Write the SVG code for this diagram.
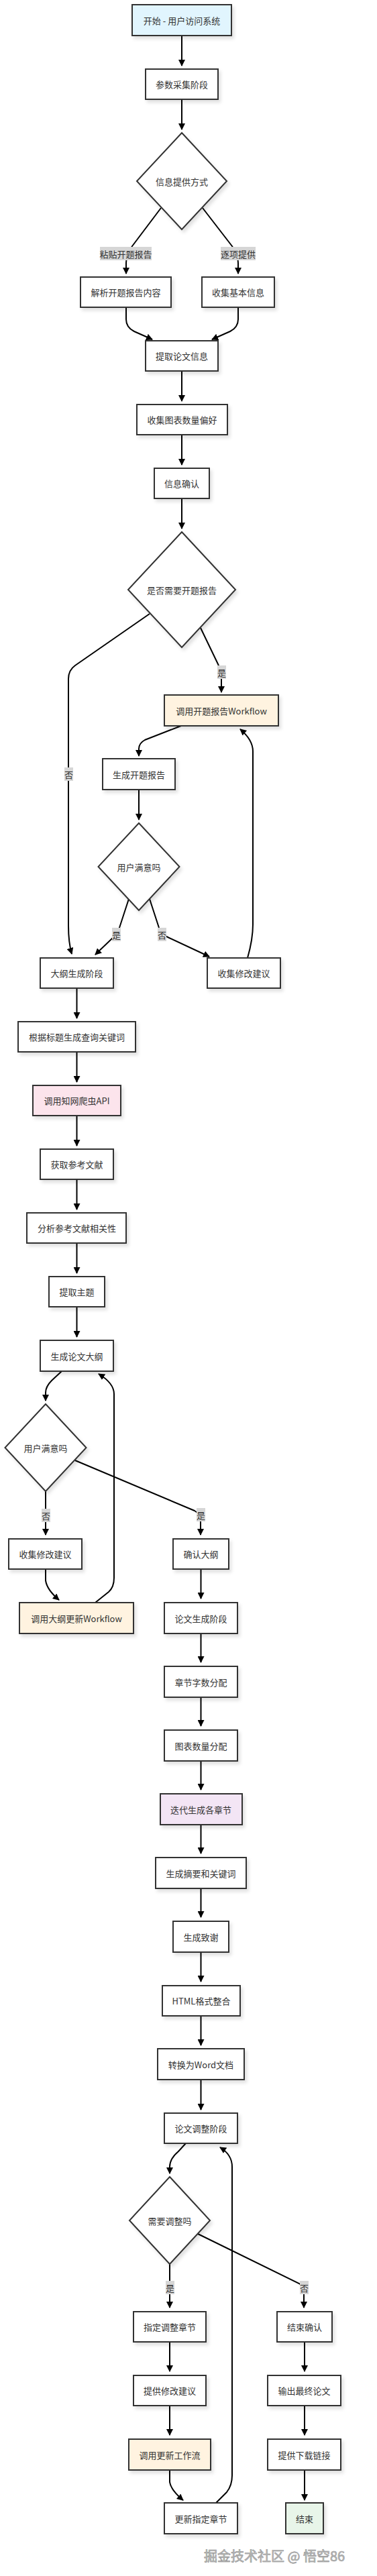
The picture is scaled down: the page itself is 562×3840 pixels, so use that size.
<svg xmlns="http://www.w3.org/2000/svg" width="562" height="3840" viewBox="0 0 562 3840">
<defs>
<marker id="arr" viewBox="0 0 10 10" refX="9" refY="5" markerWidth="10" markerHeight="10" markerUnits="userSpaceOnUse" orient="auto">
<path d="M0,0 L10,5 L0,10 z" fill="#000"/>
</marker>
<filter id="sh" x="-20%" y="-20%" width="140%" height="160%">
<feDropShadow dx="3" dy="4" stdDeviation="2.5" flood-color="#000" flood-opacity="0.12"/>
</filter>
<style>
.n rect,.n polygon{fill:#fff;stroke:#333;stroke-width:2;filter:url(#sh)}
.n text{font-family:"Noto Sans CJK SC","Noto Sans",sans-serif;font-size:13px;fill:#333;text-anchor:middle;dominant-baseline:central}
.blue rect{fill:#e1f5fe}
.orange rect{fill:#fff3e0}
.pink rect{fill:#fce4ec}
.purple rect{fill:#f3e5f5}
.green rect{fill:#e8f5e9}
.e path{fill:none;stroke:#000;stroke-width:2;marker-end:url(#arr)}
.lb rect{fill:#d6d6d6}
.lb text{font-family:"Noto Sans CJK SC","Noto Sans",sans-serif;font-size:13px;fill:#333;text-anchor:middle;dominant-baseline:central}
.wm{font-family:"Noto Sans CJK SC","Noto Sans",sans-serif;font-size:20px;fill:#b0b0b0;stroke:#777;stroke-width:0.6;paint-order:stroke}
</style>
</defs>
<rect width="562" height="3840" fill="#fff"/>

<g id="connectors" class="e">
<path d="M271,53 V98"/>
<path d="M271,148 V193"/>
<path d="M240,310 L197,367 Q188,380 188,392 L188,408"/>
<path d="M302,310 L346,367 Q355,380 355,392 L355,408"/>
<path d="M188,458 L188,476 Q188,488 200,494 L227,506"/>
<path d="M355,458 L355,476 Q355,488 343,494 L316,506"/>
<path d="M271,553 V598"/>
<path d="M271,648 V693"/>
<path d="M271,743 V788"/>
<path d="M223,915 L112,992 Q102,999 102,1012 L102,1380 Q102,1405 107,1422"/>
<path d="M299,936 L325,990 Q330,1000 330,1010 L330,1032"/>
<path d="M270,1082 L216,1103 Q207,1108 207,1116 L207,1127"/>
<path d="M207,1177 V1222"/>
<path d="M192,1340 L178,1383 Q173,1394 166,1400 L142,1423"/>
<path d="M223,1340 L237,1383 Q241,1393 250,1397 L312,1426"/>
<path d="M369,1428 Q377,1400 377,1378 L377,1120 Q377,1103 358,1087"/>
<path d="M114.5,1473 V1518"/>
<path d="M114.5,1568 V1613"/>
<path d="M114.5,1663 V1708"/>
<path d="M114.5,1758 V1803"/>
<path d="M114.5,1853 V1898"/>
<path d="M114.5,1948 V1993"/>
<path d="M92,2044 L77,2058 Q68,2067 68,2076 L68,2088"/>
<path d="M68,2223 V2288"/>
<path d="M112,2177 L290,2252 Q299,2257 299,2266 L299,2288"/>
<path d="M68,2339 L68,2356 Q70,2370 88,2385"/>
<path d="M142,2389 L162,2373 Q170,2366 170,2352 L170,2078 Q170,2062 147,2048"/>
<path d="M299.5,2339 V2383"/>
<path d="M299.5,2435 V2478"/>
<path d="M299.5,2530 V2573"/>
<path d="M299.5,2625 V2668"/>
<path d="M299.5,2720 V2763"/>
<path d="M299.5,2815 V2858"/>
<path d="M299.5,2910 V2954"/>
<path d="M299.5,3005 V3049"/>
<path d="M299.5,3100 V3145"/>
<path d="M277,3195 L266,3207 Q253,3218 253,3230 L253,3240"/>
<path d="M253,3375 V3440"/>
<path d="M295,3330 L446,3404 Q453,3409 453,3416 L453,3440"/>
<path d="M253,3491 V3535"/>
<path d="M253,3586 V3630"/>
<path d="M253,3682 L253,3700 Q255,3712 273,3727"/>
<path d="M322,3731 L338,3715 Q346,3705 346,3690 L346,3230 Q346,3212 328,3201"/>
<path d="M454,3491 V3535"/>
<path d="M454,3586 V3630"/>
<path d="M454,3682 V3727"/>
</g>

<g id="edge-labels" class="lb">
<g><rect x="149" y="368" width="77" height="20"/><text x="187.5" y="378">粘贴开题报告</text></g>
<g><rect x="329" y="368" width="52" height="20"/><text x="355" y="378">逐项提供</text></g>
<g><rect x="96" y="1144" width="13" height="20"/><text x="102.5" y="1154">否</text></g>
<g><rect x="324" y="992" width="13" height="20"/><text x="330.5" y="1002">是</text></g>
<g><rect x="167" y="1383" width="13" height="20"/><text x="173.5" y="1393">是</text></g>
<g><rect x="235" y="1383" width="13" height="20"/><text x="241.5" y="1393">否</text></g>
<g><rect x="62" y="2249" width="13" height="20"/><text x="68.5" y="2259">否</text></g>
<g><rect x="293" y="2248" width="13" height="20"/><text x="299.5" y="2258">是</text></g>
<g><rect x="247" y="3400" width="13" height="20"/><text x="253.5" y="3410">是</text></g>
<g><rect x="447" y="3400" width="13" height="20"/><text x="453.5" y="3410">否</text></g>
</g>

<g id="start" class="n blue"><rect x="197" y="7" width="148" height="46"/><text x="271" y="30">开始 - 用户访问系统</text></g>
<g id="params" class="n"><rect x="217" y="103" width="108" height="45"/><text x="271" y="125.5">参数采集阶段</text></g>
<g id="infoMode" class="n"><polygon points="271,198 338,270 271,342 204,270"/><text x="271" y="270">信息提供方式</text></g>
<g id="parseReport" class="n"><rect x="120" y="413" width="135" height="45"/><text x="187.5" y="435.5">解析开题报告内容</text></g>
<g id="collectBasic" class="n"><rect x="301" y="413" width="108" height="45"/><text x="355" y="435.5">收集基本信息</text></g>
<g id="extractInfo" class="n"><rect x="217" y="508" width="108" height="45"/><text x="271" y="530.5">提取论文信息</text></g>
<g id="chartPref" class="n"><rect x="204" y="603" width="135" height="45"/><text x="271.5" y="625.5">收集图表数量偏好</text></g>
<g id="confirmInfo" class="n"><rect x="230" y="698" width="82" height="45"/><text x="271" y="720.5">信息确认</text></g>
<g id="needReport" class="n"><polygon points="271,793 351,879 271,965 191,879"/><text x="271" y="879">是否需要开题报告</text></g>
<g id="reportWorkflow" class="n orange"><rect x="245" y="1036" width="170" height="46"/><text x="330" y="1059">调用开题报告Workflow</text></g>
<g id="genReport" class="n"><rect x="153" y="1131" width="108" height="46"/><text x="207" y="1154">生成开题报告</text></g>
<g id="satisfied1" class="n"><polygon points="207,1227 267.5,1292 207,1357 146.5,1292"/><text x="207" y="1292">用户满意吗</text></g>
<g id="outlineStage" class="n"><rect x="60" y="1428" width="109" height="45"/><text x="114.5" y="1450.5">大纲生成阶段</text></g>
<g id="collectSuggest1" class="n"><rect x="309" y="1428" width="109" height="45"/><text x="363.5" y="1450.5">收集修改建议</text></g>
<g id="genKeywords" class="n"><rect x="27" y="1523" width="175" height="45"/><text x="114.5" y="1545.5">根据标题生成查询关键词</text></g>
<g id="cnkiApi" class="n pink"><rect x="49" y="1618" width="131" height="45"/><text x="114.5" y="1640.5">调用知网爬虫API</text></g>
<g id="getRefs" class="n"><rect x="60" y="1713" width="109" height="45"/><text x="114.5" y="1735.5">获取参考文献</text></g>
<g id="analyzeRefs" class="n"><rect x="40" y="1808" width="148" height="45"/><text x="114.5" y="1830.5">分析参考文献相关性</text></g>
<g id="extractTopic" class="n"><rect x="73" y="1903" width="83" height="45"/><text x="114.5" y="1925.5">提取主题</text></g>
<g id="genOutline" class="n"><rect x="60" y="1998" width="109" height="46"/><text x="114.5" y="2021">生成论文大纲</text></g>
<g id="satisfied2" class="n"><polygon points="68,2093 128.5,2158 68,2223 7.5,2158"/><text x="68" y="2158">用户满意吗</text></g>
<g id="collectSuggest2" class="n"><rect x="13" y="2294" width="109" height="45"/><text x="67.5" y="2316.5">收集修改建议</text></g>
<g id="outlineWorkflow" class="n orange"><rect x="29" y="2389" width="170" height="46"/><text x="114" y="2412">调用大纲更新Workflow</text></g>
<g id="confirmOutline" class="n"><rect x="258" y="2294" width="83" height="45"/><text x="299.5" y="2316.5">确认大纲</text></g>
<g id="paperStage" class="n"><rect x="245" y="2389" width="109" height="46"/><text x="299.5" y="2412">论文生成阶段</text></g>
<g id="wordAlloc" class="n"><rect x="245" y="2484" width="109" height="46"/><text x="299.5" y="2507">章节字数分配</text></g>
<g id="chartAlloc" class="n"><rect x="245" y="2579" width="109" height="46"/><text x="299.5" y="2602">图表数量分配</text></g>
<g id="iterChapters" class="n purple"><rect x="239" y="2674" width="122" height="46"/><text x="299.5" y="2697">迭代生成各章节</text></g>
<g id="genAbstract" class="n"><rect x="232" y="2769" width="135" height="46"/><text x="299.5" y="2792">生成摘要和关键词</text></g>
<g id="genThanks" class="n"><rect x="258" y="2864" width="83" height="46"/><text x="299.5" y="2887">生成致谢</text></g>
<g id="htmlMerge" class="n"><rect x="242" y="2960" width="116" height="45"/><text x="300" y="2982.5">HTML格式整合</text></g>
<g id="toWord" class="n"><rect x="235" y="3054" width="129" height="46"/><text x="299.5" y="3077">转换为Word文档</text></g>
<g id="adjustStage" class="n"><rect x="245" y="3150" width="109" height="45"/><text x="299.5" y="3172.5">论文调整阶段</text></g>
<g id="needAdjust" class="n"><polygon points="253,3245 313,3310 253,3375 193,3310"/><text x="253" y="3310">需要调整吗</text></g>
<g id="pickChapter" class="n"><rect x="199" y="3446" width="108" height="45"/><text x="253" y="3468.5">指定调整章节</text></g>
<g id="endConfirm" class="n"><rect x="413" y="3446" width="82" height="45"/><text x="454" y="3468.5">结束确认</text></g>
<g id="giveSuggest" class="n"><rect x="199" y="3541" width="108" height="45"/><text x="253" y="3563.5">提供修改建议</text></g>
<g id="updateWorkflow" class="n orange"><rect x="192" y="3636" width="122" height="46"/><text x="253" y="3659">调用更新工作流</text></g>
<g id="updateChapter" class="n"><rect x="245" y="3731" width="109" height="46"/><text x="299.5" y="3754">更新指定章节</text></g>
<g id="outputPaper" class="n"><rect x="399" y="3541" width="109" height="45"/><text x="453.5" y="3563.5">输出最终论文</text></g>
<g id="downloadLink" class="n"><rect x="399" y="3636" width="109" height="46"/><text x="453.5" y="3659">提供下载链接</text></g>
<g id="end" class="n green"><rect x="426" y="3731" width="56" height="46"/><text x="454" y="3754">结束</text></g>

<text class="wm" x="304" y="3818">掘金技术社区 @ 悟空86</text>
</svg>
